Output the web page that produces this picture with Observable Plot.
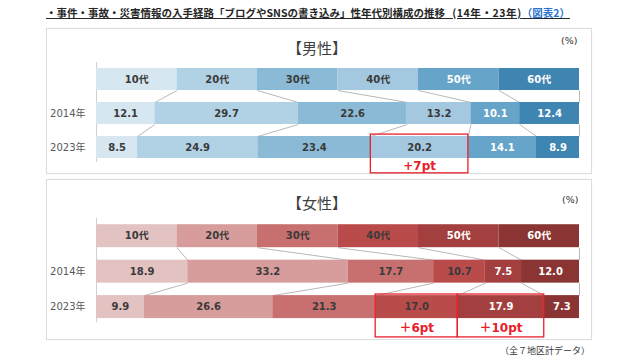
<!DOCTYPE html>
<html>
<head>
<meta charset="utf-8">
<script src="https://cdn.jsdelivr.net/npm/d3@7"></script>
<script src="https://cdn.jsdelivr.net/npm/@observablehq/plot@0.6"></script>
<style>
  body { margin: 0; background: #fff; }
  #root { position: relative; width: 640px; height: 360px; overflow: hidden; font-family: "Noto Sans CJK JP", sans-serif; }
  .abs { position: absolute; white-space: nowrap; }
  .panel { position: absolute; border: 1px solid #dcdcdc; box-sizing: border-box; background: #fff; box-shadow: 0 0 1px #eee; }
  .ptitle { position: absolute; font-size: 15px; color: #404040; transform: translateX(-50%); line-height: 20px; }
  .pct { position: absolute; font-family: "DejaVu Sans", sans-serif; font-size: 9.5px; color: #333; line-height: 12px; }
  .chart { position: absolute; left: 0; }
</style>
</head>
<body>
<div id="root">
  <div class="abs" style="left:46px;top:5px;font-size:10.5px;font-weight:bold;color:#262626;text-decoration:underline;line-height:16px;">・事件・事故・災害情報の入手経路「ブログやSNSの書き込み」性年代別構成の推移 &nbsp; <span style="letter-spacing:0.6px">(14年・23年)</span><span style="color:#2a74cf">（図表2）</span></div>
  <div class="panel" style="left:46px;top:28px;width:546px;height:146px;"></div>
  <div class="panel" style="left:46px;top:179px;width:546px;height:161px;"></div>
  <div class="ptitle" style="left:317px;top:38px;">【男性】</div>
  <div class="ptitle" style="left:317px;top:193px;">【女性】</div>
  <div class="pct" style="left:561px;top:35px;">(%)</div>
  <div class="pct" style="left:562px;top:194px;">(%)</div>
  <div class="abs" style="right:50px;top:344px;font-size:9px;color:#333;line-height:14px;">（全７地区計データ）</div>
  <div id="male" class="chart" style="top:28px;"></div>
  <div id="female" class="chart" style="top:179px;"></div>
</div>
<script>
const ageGroups = ["10代", "20代", "30代", "40代", "50代", "60代"];
const years = ["2014年", "2023年"];
const male2014 = [12.1, 29.7, 22.6, 13.2, 10.1, 12.4];
const male2023 = [8.5, 24.9, 23.4, 20.2, 14.1, 8.9];
const female2014 = [18.9, 33.2, 17.7, 10.7, 7.5, 12.0];
const female2023 = [9.9, 26.6, 21.3, 17.0, 17.9, 7.3];
const maleNotes = [{age: "40代", label: "+7pt"}];
const femaleNotes = [{age: "40代", label: "＋6pt"}, {age: "50代", label: "＋10pt"}];

const malePalette = ["#d6e7f1", "#b1d2e5", "#8bbad6", "#a3c8df", "#67a4ca", "#3f85b2"];
const femalePalette = ["#e3c2c2", "#d79c9c", "#c86f6f", "#ba4b4b", "#a43f3f", "#8a3434"];

const H = 0.324; // half bar height in row units

function segments(values) {
  const sum = d3.sum(values);
  let c = 0;
  return values.map((v, i) => {
    const x1 = c / sum * 100;
    c += v;
    return {age: ageGroups[i], value: v, x1, x2: c / sum * 100};
  });
}

function drawPanel(cfg) {
  const header = segments(ageGroups.map(() => 1));
  const rows = [header, segments(cfg.v2014), segments(cfg.v2023)];
  const cells = rows.flatMap((segs, r) => segs.map(s => ({...s, row: r, text: r === 0 ? s.age : s.value.toFixed(1)})));
  const links = [];
  for (let r = 0; r < 2; r++) {
    for (let k = 0; k < 6; k++) {
      links.push({x1: rows[r][k].x2, x2: rows[r + 1][k].x2, y1: r + H, y2: r + 1 - H});
    }
  }
  const notes = cfg.notes.map(n => {
    const s = rows[2].find(d => d.age === n.age);
    return {...n, x1: s.x1, x2: s.x2};
  });
  const dark = new Set(ageGroups.slice(0, 4));
  const font = "DejaVu Sans, Noto Sans CJK JP, sans-serif";
  return Plot.plot({
    width: 640,
    height: cfg.height,
    margin: 0,
    style: {background: "transparent", overflow: "visible", fontFamily: font},
    x: {domain: [0, 100], range: [96, 579], axis: null},
    y: {domain: [0, 2], range: cfg.yRange, axis: null},
    color: {domain: ageGroups, range: cfg.colors},
    marks: [
      Plot.ruleX([0], {y1: () => -0.5, y2: () => 2.44, stroke: "#d0d0d0"}),
      Plot.link(links, {x1: "x1", x2: "x2", y1: "y1", y2: "y2", stroke: "#a6a6a6", strokeWidth: 0.8}),
      Plot.rect(cells, {x1: "x1", x2: "x2", y1: d => d.row - H, y2: d => d.row + H, fill: "age"}),
      Plot.text(cells.filter(d => dark.has(d.age)), {x: d => (d.x1 + d.x2) / 2, y: "row", text: "text", fill: "#3a3a3a", fontWeight: "bold", fontSize: 10}),
      Plot.text(cells.filter(d => !dark.has(d.age)), {x: d => (d.x1 + d.x2) / 2, y: "row", text: "text", fill: "#ffffff", fontWeight: "bold", fontSize: 10}),
      Plot.text(years, {x: () => 0, y: (d, i) => i + 1, text: d => d, dx: -11, textAnchor: "end", fill: "#595959", fontSize: 10}),
      Plot.rect(notes, {x1: "x1", x2: "x2", y1: () => 2 - cfg.boxUp, y2: () => 2 + cfg.boxDown, fill: "none", stroke: "#e8202a", strokeWidth: 1.3}),
      Plot.text(notes, {x: d => (d.x1 + d.x2) / 2, y: () => 2 + cfg.noteDy, text: "label", fill: "#e8202a", fontWeight: "bold", fontSize: 12})
    ]
  });
}

document.getElementById("male").appendChild(drawPanel({
  v2014: male2014, v2023: male2023, notes: maleNotes, colors: malePalette,
  height: 146, yRange: [51, 119], boxUp: 0.38, boxDown: 0.76, noteDy: 0.56
}));
document.getElementById("female").appendChild(drawPanel({
  v2014: female2014, v2023: female2023, notes: femaleNotes, colors: femalePalette,
  height: 161, yRange: [56.7, 127.6], boxUp: 0.355, boxDown: 0.855, noteDy: 0.6
}));
</script>
</body>
</html>
